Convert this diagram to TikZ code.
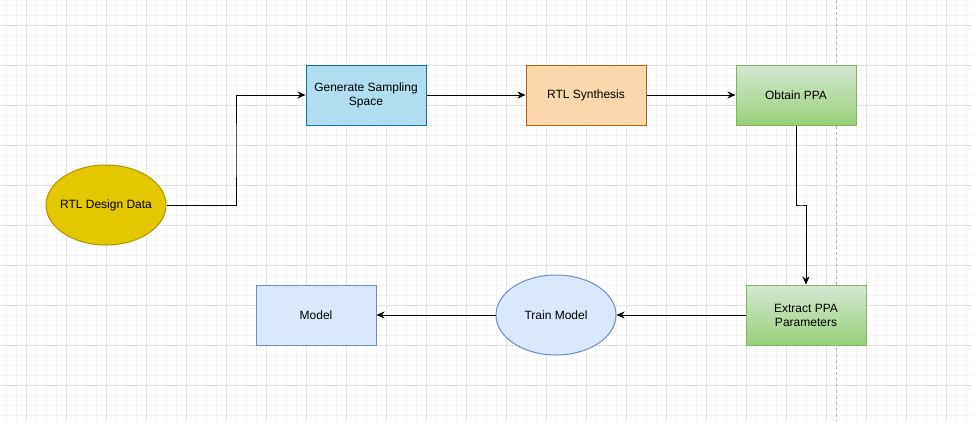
\documentclass[tikz,border=0pt]{standalone}
\usepackage{fontspec}
\setmainfont{Liberation Sans}
\usetikzlibrary{arrows.meta,shapes.geometric,calc}
\definecolor{gridminor}{HTML}{F4F4F4}
\definecolor{gridmajor}{HTML}{E2E2E2}
\definecolor{genfill}{HTML}{B1DDF0}
\definecolor{genline}{HTML}{10739E}
\definecolor{synfill}{HTML}{FAD7AC}
\definecolor{synline}{HTML}{B46504}
\definecolor{greentop}{HTML}{D5E8D4}
\definecolor{greenbot}{HTML}{97D077}
\definecolor{greenline}{HTML}{82B366}
\definecolor{datafill}{HTML}{E3C800}
\definecolor{dataline}{HTML}{B09500}
\definecolor{bluefill}{HTML}{DAE8FC}
\definecolor{blueline}{HTML}{6C8EBF}
\newcommand{\ovaltext}[1]{\makebox[0pt]{#1}}
\tikzset{
  box/.style={rectangle, minimum width=120pt, minimum height=60pt, inner sep=0pt,
    line width=1pt, align=center, font=\fontsize{12}{14}\selectfont},
  oval/.style={ellipse, minimum width=120pt, minimum height=80pt, inner sep=0pt,
    line width=1pt, font=\fontsize{12}{14}\selectfont},
  greenbox/.style={box, draw=greenline, top color=greentop, bottom color=greenbot},
  link/.style={line width=1pt, -{Stealth[length=8pt,width=7pt,inset=2.5pt]}}
}
\begin{document}
\begin{tikzpicture}[x=1pt,y=-1pt]
  \useasboundingbox (0,0) rectangle (972,421);
  \fill[white] (0,0) rectangle (972,421);
  % background grid
  \foreach \x in {6,16,...,966} \draw[gridminor, line width=1pt] (\x,0) -- (\x,421);
  \foreach \y in {5,15,...,415} \draw[gridminor, line width=1pt] (0,\y) -- (972,\y);
  \foreach \x in {26,66,...,946} \draw[gridmajor, line width=1pt] (\x,0) -- (\x,421);
  \foreach \y in {25,65,...,385} \draw[gridmajor, line width=1pt] (0,\y) -- (972,\y);
  \draw[black!30, line width=1pt, dash pattern=on 3pt off 3pt] (836.5,0) -- (836.5,421);

  \node[oval, draw=dataline, fill=datafill] (data) at (106,205) {\ovaltext{RTL Design Data}};
  \node[box, draw=genline, fill=genfill] (gen) at (366,95) {Generate Sampling\\Space};
  \node[box, draw=synline, fill=synfill] (synth) at (586,95) {RTL Synthesis};
  \node[greenbox] (obtain) at (796,95) {Obtain PPA};
  \node[greenbox] (extract) at (806,315) {Extract PPA\\Parameters};
  \node[oval, draw=blueline, fill=bluefill] (train) at (556,315) {\ovaltext{Train Model}};
  \node[box, draw=blueline, fill=bluefill] (model) at (316,315) {Model};

  \draw[link] (data.east) -| ($(data.east)!.5!(gen.west)$) |- (gen.west);
  \draw[link] (gen.east) -- (synth.west);
  \draw[link] (synth.east) -- (obtain.west);
  \draw[link] (obtain.south) |- ($(obtain.south)!.5!(extract.north)$) -| (extract.north);
  \draw[link] (extract.west) -- (train.east);
  \draw[link] (train.west) -- (model.east);
\end{tikzpicture}
\end{document}
